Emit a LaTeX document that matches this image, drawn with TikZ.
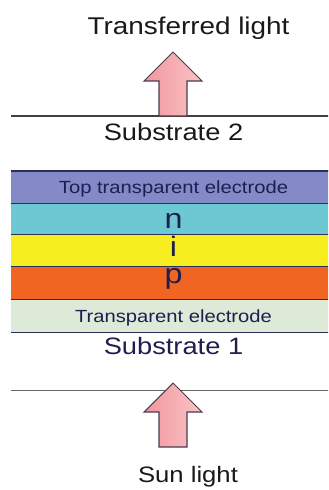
\documentclass[tikz,border=0pt]{standalone}
\usepackage{fontspec}
\setmainfont{Liberation Sans}[FakeStretch=1.15]
\usepackage{xcolor}
\usepackage{tikz}
\usetikzlibrary{positioning}
\definecolor{tteblue}{RGB}{132,137,200}
\definecolor{ncyan}{RGB}{108,200,210}
\definecolor{iyellow}{RGB}{246,238,30}
\definecolor{porange}{RGB}{241,101,34}
\definecolor{tegreen}{RGB}{221,234,216}
\definecolor{txtnavy}{RGB}{30,30,80}
\definecolor{linenavy}{RGB}{45,45,90}
\definecolor{arrowdeep}{RGB}{241,150,158}
\definecolor{arrowlight}{RGB}{250,196,198}
\definecolor{arrowedge}{RGB}{75,60,80}

\begin{document}
\begin{tikzpicture}[x=0.02cm, y=-0.02cm, node distance=0pt,
  layer/.style={minimum width=6.5cm, minimum height=0.64cm, inner sep=0pt,
    text depth=0pt, text=txtnavy},
  smalllab/.style={font=\fontsize{10}{12}\selectfont, text height=7.2pt},
  sublab/.style={font=\fontsize{13.5}{16}\selectfont, text height=9.7pt},
  piplab/.style={font=\fontsize{16}{19}\selectfont, text height=11.5pt},
  sepline/.style={draw=linenavy, line width=0.6pt},
  lightarrow/.style={draw=arrowedge, line width=0.6pt, left color=arrowdeep, right color=arrowlight}]
  \useasboundingbox (0,0) rectangle (328,490);
  \clip (0,0) rectangle (328,490);
  % layer stack, top to bottom
  \node[layer, sublab, anchor=north, minimum height=1.08cm, text depth=0.46cm, text=black!90] (sub2) at (173.5,116) {Substrate 2};
  \node[layer, smalllab, fill=tteblue, below=of sub2] (tte) {Top transparent electrode};
  \node[layer, piplab, fill=ncyan, minimum height=0.6cm, below=of tte] (nl) {n};
  \node[layer, piplab, fill=iyellow, text depth=0.17cm, below=of nl] (il) {i};
  \node[layer, piplab, fill=porange, text height=0.3cm, text depth=0.28cm, below=of il] (pl) {p};
  \node[layer, smalllab, fill=tegreen, below=of pl] (te) {Transparent electrode};
  \node[layer, sublab, minimum height=1.16cm, text depth=0.62cm, below=of te] (sub1) {Substrate 1};
  % boundaries
  \draw[sepline, draw=black!75] (sub2.north west) -- (sub2.north east);
  \foreach \lay in {tte,nl,il,pl,te,sub1}
    \draw[sepline] (\lay.north west) -- (\lay.north east);
  \draw[sepline, line width=1pt] (tte.north west) -- (tte.north east);
  \draw[sepline, draw=black!60] (sub1.south west) -- (sub1.south east);
  % light arrows
  \foreach \yb in {116,447}
    \draw[lightarrow] (159,\yb) -- ++(0,-35) -- ++(-15,0) -- ++(29,-29) -- ++(29,29) -- ++(-15,0) -- ++(0,35) -- cycle;
  \node[anchor=base, font=\fontsize{13.8}{16}\selectfont, text=black!90] (transferred) at (188.5,34) {Transferred light};
  \node[anchor=base, font=\fontsize{12.7}{15}\selectfont, text=black!90] (sun) at (188,482) {Sun light};
\end{tikzpicture}
\end{document}
